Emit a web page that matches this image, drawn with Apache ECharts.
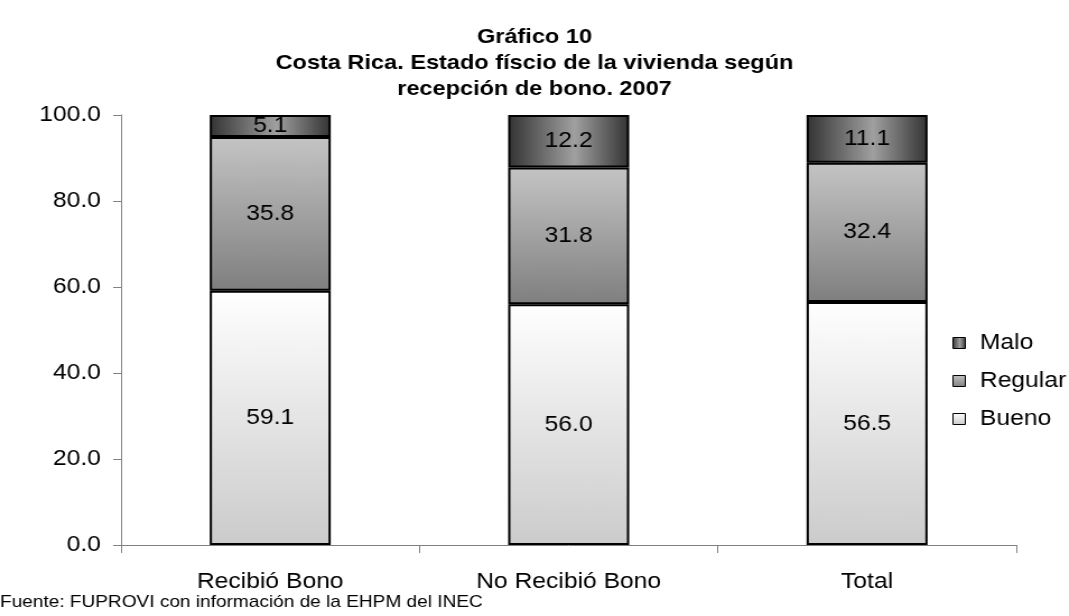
<!DOCTYPE html>
<html>
<head>
<meta charset="utf-8">
<script src="https://cdn.jsdelivr.net/npm/echarts@6/dist/echarts.min.js"></script>
<style>
  html, body { margin: 0; padding: 0; background: #fff; overflow: hidden; }
  /* the chart is laid out narrower and widened with a horizontal stretch */
  #chart { width: 954px; height: 616px; transform: scaleX(1.1205); transform-origin: 0 0; }
</style>
</head>
<body>
<div id="chart"></div>
<script>
// Categories and stacked shares (%) by housing condition
const categories = ['Recibió Bono', 'No Recibió Bono', 'Total'];
const bueno   = [59.1, 56.0, 56.5];
const regular = [35.8, 31.8, 32.4];
const malo    = [5.1, 12.2, 11.1];
const legendOrder = ['Malo', 'Regular', 'Bueno'];
const titleLines = ['Gráfico 10', 'Costa Rica. Estado físcio de la vivienda según', 'recepción de bono. 2007'];
const sourceNote = 'Fuente: FUPROVI con información de la EHPM del INEC';

const FONT = '"Liberation Sans", Arial, sans-serif';

const fillBueno = new echarts.graphic.LinearGradient(0, 0, 0, 1, [
  { offset: 0, color: '#ffffff' }, { offset: 1, color: '#cbcbcb' }
]);
const fillRegular = new echarts.graphic.LinearGradient(0, 0, 0, 1, [
  { offset: 0, color: '#c4c4c4' }, { offset: 1, color: '#7f7f7f' }
]);
const fillMalo = new echarts.graphic.LinearGradient(0, 0, 1, 0, [
  { offset: 0, color: '#333333' }, { offset: 0.55, color: '#a0a0a0' }, { offset: 1, color: '#333333' }
]);

function seriesOf(name, data, fill) {
  return {
    name: name,
    type: 'bar',
    stack: 'total',
    barWidth: 108,
    data: data,
    itemStyle: { color: fill, borderColor: '#000', borderWidth: 2 },
    label: {
      show: true,
      position: 'inside',
      color: '#000',
      fontFamily: FONT,
      fontSize: 22,
      formatter: p => p.value.toFixed(1)
    },
    emphasis: { disabled: true }
  };
}

const chart = echarts.init(document.getElementById('chart'), null, { renderer: 'canvas' });
chart.setOption({
  animation: false,
  backgroundColor: '#ffffff',
  textStyle: { fontFamily: FONT },
  grid: { left: 108, right: 47, top: 115, bottom: 71, containLabel: false },
  title: {
    text: titleLines.join('\n'),
    left: 472,
    top: 19,
    textAlign: 'center',
    textStyle: { fontFamily: FONT, fontSize: 21, fontWeight: 'bold', lineHeight: 26, color: '#000' }
  },
  graphic: [
    {
      type: 'text', left: 0, top: 594,
      style: { text: sourceNote, font: '17px ' + FONT, fill: '#000' }
    }
  ],
  legend: {
    orient: 'vertical',
    left: 845,
    top: 327,
    itemWidth: 11,
    itemHeight: 11,
    itemGap: 16,
    icon: 'rect',
    data: legendOrder,
    itemStyle: { borderColor: '#000', borderWidth: 1 },
    textStyle: { fontFamily: FONT, fontSize: 22, color: '#000', padding: [0, 0, 0, 8] }
  },
  xAxis: {
    type: 'category',
    data: categories,
    axisLine: { lineStyle: { color: '#808080', width: 1 } },
    axisTick: { show: true, alignWithLabel: false, length: 8, lineStyle: { color: '#808080' } },
    axisLabel: { color: '#000', fontFamily: FONT, fontSize: 22, margin: 26 }
  },
  yAxis: {
    type: 'value',
    min: 0, max: 100, interval: 20,
    axisLine: { show: true, lineStyle: { color: '#808080', width: 1 } },
    axisTick: { show: true, length: 7, lineStyle: { color: '#808080' } },
    splitLine: { show: false },
    axisLabel: { color: '#000', fontFamily: FONT, fontSize: 22, margin: 18, formatter: v => v.toFixed(1) }
  },
  series: [
    seriesOf('Bueno', bueno, fillBueno),
    seriesOf('Regular', regular, fillRegular),
    seriesOf('Malo', malo, fillMalo)
  ]
});
</script>
</body>
</html>
